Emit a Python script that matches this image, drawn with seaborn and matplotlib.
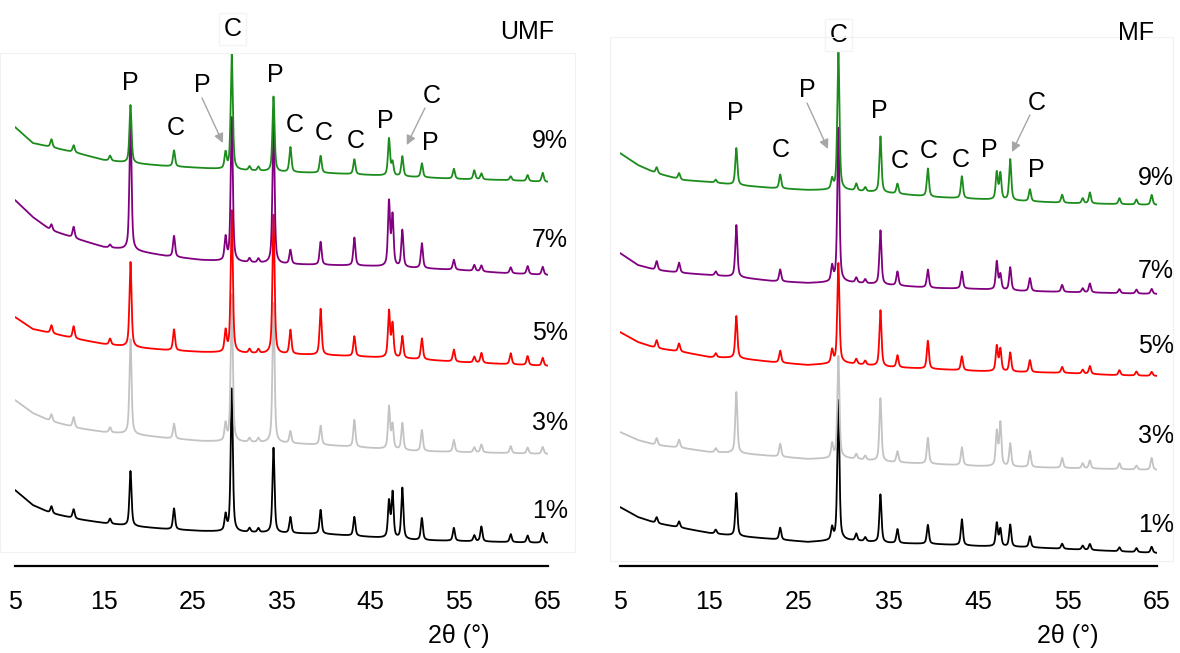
import numpy as np
import pandas as pd
import matplotlib
matplotlib.use("Agg")
import matplotlib.pyplot as plt
from matplotlib.patches import Rectangle
from matplotlib.transforms import blended_transform_factory
import seaborn as sns

sns.set_theme(style="white")
plt.rcParams["font.family"] = ["Liberation Sans", "DejaVu Sans"]

# ---------------------------------------------------------------- data
series_labels = ["1%", "3%", "5%", "7%", "9%"]
series_colors = {"1%": "#000000", "3%": "#c3c3c3", "5%": "#ff0000",
                 "7%": "#800080", "9%": "#1c8c1c"}

# 2θ positions where the (offset) background intensity is given
baseline_theta = [5, 7, 9, 12, 15, 18, 22, 26, 30, 35, 40, 45, 50, 55, 60, 65]

# reflection positions (2θ, °)
peak_theta = [9.1, 11.6, 15.7, 18.0, 22.9, 28.7, 29.4, 31.4, 32.4, 34.1, 36.0,
              39.4, 43.2, 47.1, 47.5, 48.6, 50.8, 54.4, 56.7, 57.5, 60.8, 62.7, 64.4]

# UMF: stacked background (a.u.) and peak heights above background
umf_baseline = {
    "9%": [439, 423, 419, 413, 406, 403, 400, 398, 396, 394, 393, 391, 389, 387, 386, 384],
    "7%": [366, 349, 336, 327, 319, 316, 310, 306, 304, 302, 301, 300, 298, 296, 293, 291],
    "5%": [249, 237, 233, 227, 222, 219, 216, 214, 213, 212, 211, 209, 207, 204, 202, 200],
    "3%": [166, 153, 145, 138, 134, 132, 128, 125, 124, 123, 121, 118, 115, 114, 113, 112],
    "1%": [76, 61, 53, 47, 43, 40, 37, 35, 34, 33, 32, 29, 26, 25, 24, 23],
}
umf_peaks = {
    "9%": [8, 7, 5, 58, 16, 16, 115, 4, 4, 75, 25, 17, 15, 37, 13, 20, 14, 10, 9, 6, 4, 6, 9],
    "7%": [6, 11, 3, 132, 21, 23, 144, 4, 4, 144, 14, 23, 28, 64, 50, 37, 25, 10, 6, 6, 6, 8, 8],
    "5%": [8, 12, 6, 85, 21, 21, 142, 4, 4, 139, 24, 46, 20, 46, 33, 22, 21, 12, 6, 10, 11, 9, 8],
    "3%": [7, 10, 5, 95, 15, 17, 147, 4, 4, 140, 12, 19, 27, 42, 24, 27, 21, 12, 5, 8, 7, 6, 7],
    "1%": [7, 9, 5, 55, 21, 16, 143, 4, 4, 85, 16, 24, 19, 36, 45, 51, 22, 13, 6, 15, 8, 7, 10],
}

# MF: stacked background (a.u.) and peak heights above background
mf_baseline = {
    "9%": [413, 401, 393, 386, 384, 381, 378, 376, 376, 373, 369, 367, 365, 363, 362, 361],
    "7%": [313, 301, 296, 293, 291, 289, 285, 283, 284, 281, 278, 277, 275, 274, 273, 272],
    "5%": [234, 224, 218, 214, 209, 208, 204, 201, 203, 199, 197, 195, 194, 193, 191, 190],
    "3%": [134, 126, 121, 118, 114, 113, 110, 107, 108, 104, 102, 100, 99, 98, 97, 96],
    "1%": [59, 49, 43, 38, 33, 30, 27, 24, 26, 23, 22, 20, 19, 17, 15, 13],
}
mf_peaks = {
    "9%": [6, 6, 3, 37, 14, 10, 141, 7, 4, 56, 10, 28, 22, 27, 26, 41, 12, 8, 5, 11, 6, 5, 10],
    "7%": [9, 10, 4, 52, 12, 15, 154, 5, 4, 54, 14, 18, 17, 28, 15, 23, 13, 7, 4, 9, 4, 4, 5],
    "5%": [8, 8, 4, 42, 12, 13, 100, 5, 4, 56, 12, 28, 14, 25, 22, 19, 12, 6, 4, 8, 5, 4, 4],
    "3%": [7, 8, 4, 61, 13, 14, 102, 5, 4, 63, 11, 26, 18, 34, 43, 23, 16, 10, 5, 8, 6, 4, 12],
    "1%": [6, 6, 4, 43, 12, 12, 140, 7, 4, 48, 14, 19, 26, 23, 17, 22, 11, 5, 4, 6, 4, 4, 6],
}

tick_values = [5, 15, 25, 35, 45, 55, 65]

# ------------------------------------------------------- pattern build
two_theta = np.arange(5.0, 65.0001, 0.02)
FWHM = 0.28
ETA = 0.6


def profile(center, height):
    """Pseudo-Voigt reflection of unit peak height scaled to `height`."""
    d = (two_theta - center) / (FWHM / 2)
    lor = 1.0 / (1.0 + d ** 2)
    gau = np.exp(-np.log(2) * d ** 2)
    return height * (ETA * lor + (1 - ETA) * gau)


def build_frame(baselines, peaks):
    rows = []
    for lab in series_labels:
        y = np.interp(two_theta, baseline_theta, baselines[lab])
        for c, h in zip(peak_theta, peaks[lab]):
            y = y + profile(c, h)
        rows.append(pd.DataFrame({"theta": two_theta, "intensity": y, "series": lab}))
    return pd.concat(rows, ignore_index=True)


umf_df = build_frame(umf_baseline, umf_peaks)
mf_df = build_frame(mf_baseline, mf_peaks)

# --------------------------------------------------------------- figure
fig = plt.figure(figsize=(11.8, 6.53), dpi=100)
fig.patch.set_facecolor("white")

# faint chart-area frames
fig.patches.append(Rectangle((0.0, 0.1547), 0.487, 0.764, transform=fig.transFigure,
                             fill=False, edgecolor="#f1f1f1", lw=0.8, zorder=0))
fig.patches.append(Rectangle((0.5169, 0.1409), 0.4771, 0.8025, transform=fig.transFigure,
                             fill=False, edgecolor="#f1f1f1", lw=0.8, zorder=0))

ax_l = fig.add_axes([0.01271, 0.1332, 0.4517, 0.8055])
ax_r = fig.add_axes([0.5254, 0.1332, 0.4551, 0.8055])

for ax, df in ((ax_l, umf_df), (ax_r, mf_df)):
    ax.set_facecolor("none")
    sns.lineplot(data=df, x="theta", y="intensity", hue="series",
                 hue_order=series_labels, palette=series_colors,
                 estimator=None, legend=False, linewidth=1.3, ax=ax)
    ax.set_xlim(5, 65)
    ax.set_ylim(0, 526)
    ax.set_xticks(tick_values)
    ax.set_xticklabels([str(v) for v in tick_values])
    ax.set_yticks([])
    ax.set_xlabel("")
    ax.set_ylabel("")
    for s in ("top", "left", "right"):
        ax.spines[s].set_visible(False)
    ax.spines["bottom"].set_color("black")
    ax.spines["bottom"].set_linewidth(1.6)
    ax.tick_params(axis="x", direction="out", length=5, width=1.4,
                   color="black", labelsize=18, pad=12, labelcolor="black")
    tr = blended_transform_factory(ax.transData, fig.transFigure)
    ax.text(55.0, 0.015, "2θ (°)", transform=tr, ha="center", va="baseline",
            fontsize=18, color="black")

TXT = dict(ha="center", va="baseline", fontsize=18, color="black", clip_on=False, zorder=10)
ARROW = dict(arrowstyle="-|>", color="#a6a6a6", lw=1.0, mutation_scale=14,
             shrinkA=0, shrinkB=0)

# panel titles
fig.text(527 / 1180, 1 - 39 / 653, "UMF", ha="center", va="baseline", fontsize=18, color="black")
fig.text(1136 / 1180, 1 - 40 / 653, "MF", ha="center", va="baseline", fontsize=18, color="black")

# UMF annotations
ax_l.text(29.5, 530, "C", bbox=dict(facecolor="white", edgecolor="#f4f4f4", pad=3), **TXT)
for x, y, s in [(18.0, 476, "P"), (23.1, 431, "C"), (26.05, 474, "P"), (34.3, 484, "P"),
                (36.5, 434, "C"), (39.8, 426, "C"), (43.4, 418, "C"), (46.65, 438, "P"),
                (51.9, 463, "C"), (51.7, 416, "P")]:
    ax_l.text(x, y, s, **TXT)
ax_l.annotate("", xy=(28.4, 423), xytext=(26.05, 468), arrowprops=ARROW)
ax_l.annotate("", xy=(49.1, 421), xytext=(51.15, 458), arrowprops=ARROW)
for lab, y in zip(["9%", "7%", "5%", "3%", "1%"], [418, 319, 226, 136, 48]):
    ax_l.text(65.2, y, lab, **TXT)

# MF annotations
ax_r.text(29.4, 524, "C", bbox=dict(facecolor="white", edgecolor="#f4f4f4", pad=3), **TXT)
for x, y, s in [(17.85, 446, "P"), (23.0, 409, "C"), (25.9, 469, "P"), (33.95, 448, "P"),
                (36.3, 398, "C"), (39.5, 408, "C"), (43.1, 399, "C"), (46.3, 409, "P"),
                (51.6, 456, "C"), (51.5, 389, "P")]:
    ax_r.text(x, y, s, **TXT)
ax_r.annotate("", xy=(28.24, 417), xytext=(25.9, 463), arrowprops=ARROW)
ax_r.annotate("", xy=(48.8, 414), xytext=(50.8, 451), arrowprops=ARROW)
for lab, y in zip(["9%", "7%", "5%", "3%", "1%"], [381, 288, 213, 123, 34]):
    ax_r.text(64.9, y, lab, **TXT)

fig.savefig("out.png", dpi=100, facecolor="white")
